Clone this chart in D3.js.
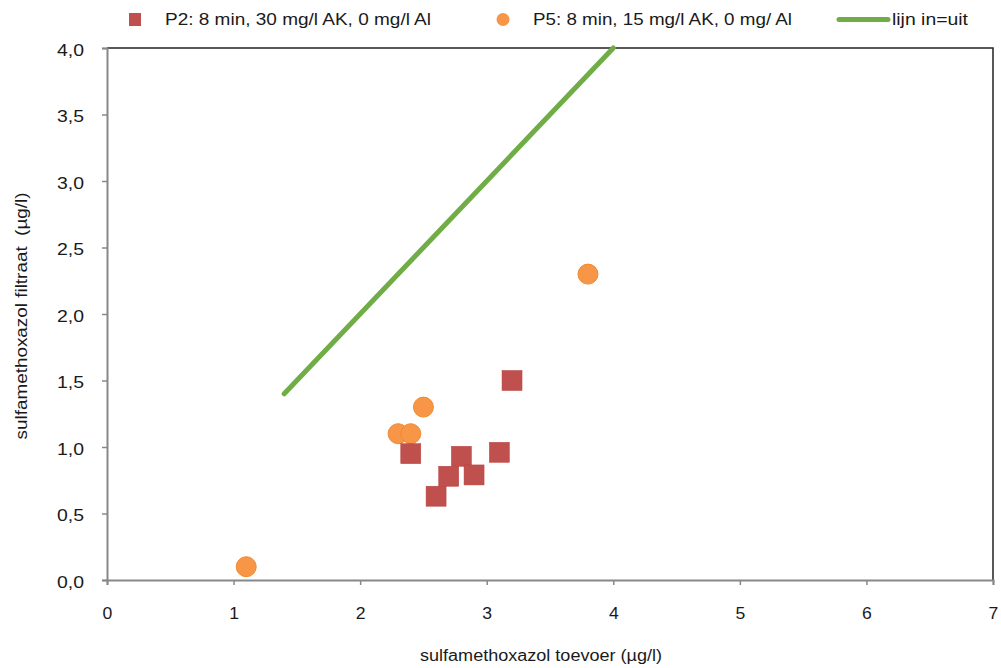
<!DOCTYPE html>
<html>
<head>
<meta charset="utf-8">
<script src="https://cdn.jsdelivr.net/npm/d3@7"></script>
<style>
  body { margin: 0; background: #fff; }
  text { font-family: "Liberation Sans", Arial, sans-serif; fill: #1a1a1a; }
</style>
</head>
<body>
<div id="container"></div>
<script>
"use strict";

const width = 1001;
const height = 668;

// P2: squares
const p2X = [2.4, 2.6, 2.7, 2.8, 2.9, 3.1, 3.2];
const p2Y = [0.95, 0.63, 0.78, 0.93, 0.79, 0.96, 1.5];

// P5: circles
const p5X = [1.1, 2.3, 2.4, 2.5, 3.8];
const p5Y = [0.1, 1.1, 1.1, 1.3, 2.3];

// reference line in=uit
const lineX = [1.4, 4];
const lineY = [1.4, 4];

const xTicks = [0, 1, 2, 3, 4, 5, 6, 7];
const yTicks = [0, 0.5, 1, 1.5, 2, 2.5, 3, 3.5, 4];

const legendLabels = ["P2: 8 min, 30 mg/l AK, 0 mg/l Al", "P5: 8 min, 15 mg/l AK, 0 mg/ Al", "lijn in=uit"];

const red = "#c0504d";
const orange = "#f79646";
const green = "#70ad47";

const margin = { left: 107, right: 8, top: 48, bottom: 88 };

const x = d3.scaleLinear().domain([0, 7]).range([margin.left, width - margin.right]);
const y = d3.scaleLinear().domain([0, 4]).range([height - margin.bottom, margin.top]);

const svg = d3.select("#container").append("svg")
    .attr("width", width)
    .attr("height", height);

// plot frame (top/right)
svg.append("path")
    .attr("d", `M${x(0)},${y(4)}H${x(7)}V${y(0)}`)
    .attr("fill", "none")
    .attr("stroke", "#222")
    .attr("stroke-width", 1.5);

// axes
const fmt = d => d3.format(".1f")(d).replace(".", ",");

const xAxis = svg.append("g")
    .attr("transform", `translate(0,${y(0)})`)
    .call(d3.axisBottom(x).tickValues(xTicks).tickSize(5).tickPadding(23).tickFormat(d3.format("d")));
const yAxis = svg.append("g")
    .attr("transform", `translate(${x(0)},0)`)
    .call(d3.axisLeft(y).tickValues(yTicks).tickSize(5).tickPadding(18).tickFormat(fmt));

[xAxis, yAxis].forEach(a => {
    a.select(".domain").attr("stroke", "#888").attr("stroke-width", 2);
    a.selectAll(".tick line").attr("stroke", "#888").attr("stroke-width", 1.5);
    a.selectAll(".tick text")
        .style("font-family", "'Liberation Sans', Arial, sans-serif")
        .style("font-size", "16px")
        .attr("fill", "#1a1a1a");
});
xAxis.selectAll(".tick text")
    .attr("transform", "scale(1.1,1)")
    .attr("x", d => 0);
yAxis.selectAll(".tick text")
    .attr("dy", "0.45em")
    .attr("textLength", 27)
    .attr("lengthAdjust", "spacingAndGlyphs");

// axis titles
svg.append("text")
    .attr("x", 541)
    .attr("y", 661)
    .attr("text-anchor", "middle")
    .style("font-size", "16px")
    .attr("textLength", 242)
    .attr("lengthAdjust", "spacingAndGlyphs")
    .text("sulfamethoxazol toevoer (µg/l)");

svg.append("text")
    .attr("transform", `translate(27,316) rotate(-90)`)
    .attr("text-anchor", "middle")
    .style("font-size", "16px")
    .style("white-space", "pre")
    .attr("textLength", 247)
    .attr("lengthAdjust", "spacingAndGlyphs")
    .text("sulfamethoxazol filtraat  (µg/l)");

// line in=uit
svg.append("path")
    .datum(d3.zip(lineX, lineY))
    .attr("d", d3.line().x(d => x(d[0])).y(d => y(d[1])))
    .attr("fill", "none")
    .attr("stroke", green)
    .attr("stroke-width", 5)
    .attr("stroke-linecap", "round");

// P5 circles
svg.append("g").selectAll("circle")
    .data(d3.zip(p5X, p5Y))
    .enter()
    .append("circle")
    .attr("cx", d => x(d[0]))
    .attr("cy", d => y(d[1]))
    .attr("r", 10)
    .attr("fill", orange)
    .attr("stroke", "#f08a30")
    .attr("stroke-width", 1);

// P2 squares
const sq = 20;
svg.append("g").selectAll("rect")
    .data(d3.zip(p2X, p2Y))
    .enter()
    .append("rect")
    .attr("x", d => x(d[0]) - sq / 2)
    .attr("y", d => y(d[1]) - sq / 2)
    .attr("width", sq)
    .attr("height", sq)
    .attr("fill", red)
    .attr("stroke", "#b8413e")
    .attr("stroke-width", 0.5);

// legend
const lg = svg.append("g");
lg.append("rect").attr("x", 129).attr("y", 13).attr("width", 12).attr("height", 13).attr("fill", red);
lg.append("text").attr("x", 165).attr("y", 25).style("font-size", "17px")
    .attr("textLength", 266).attr("lengthAdjust", "spacingAndGlyphs").text(legendLabels[0]);
lg.append("circle").attr("cx", 503).attr("cy", 19.5).attr("r", 6.5).attr("fill", orange);
lg.append("text").attr("x", 533).attr("y", 25).style("font-size", "17px")
    .attr("textLength", 259).attr("lengthAdjust", "spacingAndGlyphs").text(legendLabels[1]);
lg.append("line").attr("x1", 839).attr("x2", 888).attr("y1", 19.5).attr("y2", 19.5)
    .attr("stroke", green).attr("stroke-width", 5).attr("stroke-linecap", "round");
lg.append("text").attr("x", 892).attr("y", 25).style("font-size", "17px")
    .attr("textLength", 76).attr("lengthAdjust", "spacingAndGlyphs").text(legendLabels[2]);
</script>
</body>
</html>
